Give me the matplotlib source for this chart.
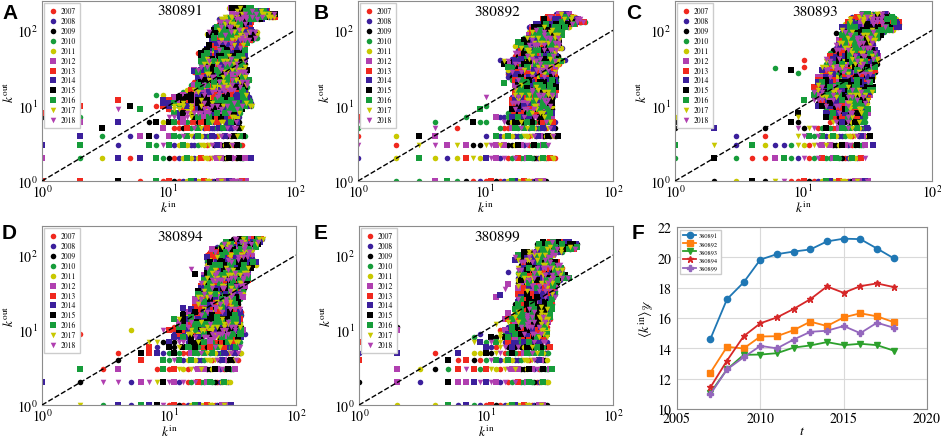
import matplotlib
matplotlib.use('Agg')
import matplotlib.pyplot as plt

plt.rcParams['font.family'] = ['STIXGeneral', 'DejaVu Serif']
plt.rcParams['mathtext.fontset'] = 'stix'

years = [2007, 2008, 2009, 2010, 2011, 2012, 2013, 2014, 2015, 2016, 2017, 2018]
year_colors = ['#f0281e', '#3b1f9c', '#000000', '#169c3a', '#c8c800', '#b03fb0',
               '#f0281e', '#3b1f9c', '#000000', '#169c3a', '#c8c800', '#b03fb0']
year_markers = ['o', 'o', 'o', 'o', 'o', 's', 's', 's', 's', 's', 'v', 'v']

# rows: (k_out, k_in from, k_in to), every integer k_in in between is a node
rows_380891 = [(1, 9, 41), (2, 8, 40), (3, 7, 38), (4, 10, 40), (5, 11, 38), (6, 10, 36),
               (7, 10, 36), (8, 11, 37), (9, 10, 38),
               (10, 9, 46), (11, 9, 45), (12, 9, 44), (13, 11, 43), (14, 12, 42), (15, 13, 41),
               (16, 14, 40), (17.5, 15, 42), (19, 15, 42), (20.5, 16, 42), (22, 17, 43),
               (24, 17, 40), (26, 17, 40), (28, 16, 41), (30, 16, 42), (33, 18, 40), (36, 18, 40),
               (39, 18, 40), (42, 18, 40), (46, 18, 40), (50, 18, 40), (54, 19, 40), (58, 20, 40),
               (63, 21, 40), (68, 22, 42), (74, 22, 46), (80, 22, 50), (87, 21, 50), (94, 21, 50),
               (102, 23, 45), (110, 23, 44), (120, 25, 42), (130, 25, 45), (140, 25, 55),
               (152, 28, 70), (165, 32, 70), (180, 35, 60), (195, 30, 45)]
extra_380891 = [(1, 1), (2, 1), (4, 1), (6, 1), (8, 1), (1, 2), (2, 2), (3, 2), (4, 2), (5, 2),
                (6, 2), (45, 2), (1, 3), (2, 3), (4, 3), (2, 4), (3, 4), (5, 4), (6, 4), (7, 4),
                (8, 4), (3, 5), (9, 5), (2, 6), (4, 6), (7, 6), (8, 6), (9, 6), (1, 7), (2, 7),
                (1, 8), (4, 9), (6, 9), (10, 9), (2, 10), (5, 10), (8, 10), (4, 12), (9, 12),
                (8, 14), (9, 14), (16, 29), (17, 50), (20, 56), (20, 90), (43, 22)]

rows_380892 = [(1, 10, 30), (2, 10, 35), (3, 10, 31), (4, 12, 37), (5, 13, 35), (6, 14, 35),
               (7, 13, 33), (8, 15, 33), (9, 16, 33),
               (10, 16, 33), (11, 16, 33), (12, 16, 33), (13, 16, 34), (14, 17, 35), (15, 17, 35),
               (16, 17, 36), (17.5, 17, 36), (19, 17, 36), (20.5, 17, 36), (22, 16, 36),
               (24, 15, 36), (26, 15, 35), (28, 15, 35), (30, 15, 35), (33, 15, 36), (36, 14, 38),
               (39, 14, 40), (42, 16, 38), (46, 17, 37), (50, 17, 35), (54, 18, 36), (58, 19, 40),
               (63, 19, 38), (68, 19, 38), (74, 20, 38), (80, 20, 38), (87, 22, 40), (94, 22, 40),
               (102, 23, 40), (110, 23, 45), (120, 25, 50), (130, 28, 60), (140, 28, 55),
               (152, 30, 50), (165, 36, 45)]
extra_380892 = [(1, 2), (1, 3), (1, 4), (1, 5), (1, 6), (1, 7), (2, 1), (3, 1), (4, 1), (5, 1),
                (6, 1), (7, 1), (8, 1), (9, 1), (2, 2), (3, 2), (4, 2), (5, 2), (6, 2), (7, 2),
                (8, 2), (9, 2), (2, 3), (3, 3), (4, 3), (5, 3), (6, 3), (7, 3), (8, 3), (9, 3),
                (2, 4), (3, 4), (4, 4), (10, 4), (4, 5), (6, 5), (4, 6), (8, 6), (9, 6), (10, 6),
                (7, 7), (12, 7), (9, 9), (10, 10), (10, 13), (14, 20), (13, 40), (17, 62),
                (18, 70), (23, 95), (22, 110), (42, 40)]

rows_380893 = [(1, 9, 32), (2, 9, 28), (3, 9, 30), (4, 11, 33), (5, 10, 32), (6, 16, 30),
               (7, 15, 30), (8, 15, 32), (9, 15, 32),
               (10, 13, 30), (11, 13, 31), (12, 12, 32), (13, 12, 32), (14, 12, 33), (15, 12, 34),
               (16, 12, 35), (17.5, 12, 35), (19, 13, 33), (20.5, 13, 33), (22, 13, 34),
               (24, 13, 35), (26, 14, 35), (28, 14, 36), (30, 14, 36), (33, 14, 36), (36, 15, 37),
               (39, 15, 38), (42, 15, 38), (46, 16, 38), (50, 16, 37), (54, 17, 36), (58, 18, 35),
               (63, 18, 35), (68, 19, 35), (74, 19, 36), (80, 20, 38), (87, 20, 40), (94, 20, 42),
               (102, 20, 50), (110, 20, 55), (120, 21, 55), (130, 22, 55), (140, 23, 52),
               (152, 24, 50), (165, 28, 45)]
extra_380893 = [(2, 1), (3, 1), (4, 1), (5, 1), (6, 1), (7, 1), (8, 1), (1, 2), (2, 2), (3, 2),
                (4, 2), (5, 2), (6, 2), (7, 2), (8, 2), (30, 2), (1, 3), (2, 3), (3, 3), (4, 3),
                (5, 3), (6, 3), (7, 3), (8, 3), (35, 3), (3, 4), (5, 4), (9, 4), (10, 4),
                (1, 5), (2, 5), (5, 5), (9, 5), (1, 6), (1, 7), (8, 6), (9, 6), (9, 7), (9, 8),
                (10, 12), (6, 32), (8, 30), (9, 27), (10, 40), (10, 33), (18, 93), (24, 140),
                (32, 17)]

rows_380894 = [(1, 10, 31), (2, 10, 30), (3, 11, 33), (4, 9, 35), (5, 10, 37), (6, 10, 36),
               (7, 9, 36), (8, 11, 37), (9, 11, 37),
               (10, 9, 38), (11, 11, 37), (12, 12, 36), (13, 12, 36), (14, 12, 36), (15, 13, 36),
               (16, 13, 37), (17.5, 13, 37), (19, 15, 36), (20.5, 16, 35), (22, 16, 35),
               (24, 16, 35), (26, 16, 36), (28, 17, 38), (30, 17, 38), (33, 17, 38), (36, 18, 39),
               (39, 18, 40), (42, 18, 40), (46, 19, 42), (50, 19, 42), (54, 19, 42), (58, 20, 42),
               (63, 20, 42), (68, 20, 44), (74, 20, 45), (80, 20, 48), (87, 20, 46), (94, 20, 45),
               (102, 20, 45), (110, 21, 45), (120, 22, 45), (130, 24, 48), (140, 26, 50),
               (152, 28, 52), (165, 32, 55)]
extra_380894 = [(2, 1), (3, 1), (4, 1), (5, 1), (6, 1), (7, 1), (8, 1), (9, 1), (1, 2), (2, 2),
                (3, 2), (4, 2), (5, 2), (6, 2), (7, 2), (8, 2), (9, 2), (2, 3), (3, 3), (4, 3),
                (8, 3), (9, 3), (10, 3), (4, 4), (6, 4), (4, 5), (6, 5), (7, 5), (8, 5), (9, 5),
                (7, 6), (8, 6), (7, 7), (8, 7), (2, 9), (5, 10), (40, 9), (11, 14), (13, 20),
                (16, 56), (15, 65), (48, 73)]

rows_380899 = [(1, 10, 30), (2, 10, 31), (3, 10, 33), (4, 10, 30), (5, 10, 31), (6, 10, 32),
               (7, 10, 30), (8, 11, 30), (9, 13, 30),
               (10, 13, 30), (11, 15, 30), (12, 17, 30), (13, 15, 31), (14, 15, 32), (15, 16, 32),
               (16, 17, 32), (17.5, 17, 32), (19, 17, 33), (20.5, 17, 33), (22, 17, 33),
               (24, 18, 33), (26, 18, 33), (28, 18, 35), (30, 18, 35), (33, 18, 35), (36, 18, 35),
               (39, 18, 35), (42, 18, 36), (46, 18, 38), (50, 18, 45), (54, 18, 42), (58, 18, 40),
               (63, 18, 40), (68, 18, 40), (74, 19, 38), (80, 19, 36), (87, 17, 30), (94, 17, 32),
               (102, 18, 35), (110, 20, 40), (120, 25, 50), (130, 25, 52), (140, 25, 52),
               (152, 28, 45)]
extra_380899 = [(2, 1), (4, 1), (5, 1), (6, 1), (7, 1), (8, 1), (9, 1), (1, 2), (2, 2), (3, 2),
                (5, 2), (6, 2), (7, 2), (8, 2), (9, 2), (2, 3), (3, 3), (4, 3), (5, 3), (6, 3),
                (7, 3), (8, 3), (9, 3), (1, 4), (5, 4), (6, 4), (7, 4), (8, 4), (9, 4), (1, 5),
                (2, 5), (4, 5), (6, 5), (8, 5), (9, 5), (1, 7), (8, 7), (9, 7), (8, 8), (9, 9),
                (2, 11), (2, 10), (12, 12), (14, 14), (15, 17), (12, 28), (13, 29), (14, 35),
                (15, 41), (15, 60), (40, 50)]

panels = [('A', '380891', rows_380891, extra_380891),
          ('B', '380892', rows_380892, extra_380892),
          ('C', '380893', rows_380893, extra_380893),
          ('D', '380894', rows_380894, extra_380894),
          ('E', '380899', rows_380899, extra_380899)]

# panel F: mean in-degree per year
t = [2007, 2008, 2009, 2010, 2011, 2012, 2013, 2014, 2015, 2016, 2017, 2018]
mean_380891 = [14.61, 17.24, 18.35, 19.85, 20.21, 20.38, 20.52, 21.05, 21.23, 21.20, 20.58, 19.94]
mean_380892 = [12.39, 14.10, 13.99, 14.78, 14.80, 15.20, 15.76, 15.47, 16.04, 16.31, 16.11, 15.73]
mean_380893 = [11.06, 12.61, 13.57, 13.59, 13.68, 14.05, 14.19, 14.41, 14.21, 14.30, 14.21, 13.85]
mean_380894 = [11.42, 13.19, 14.80, 15.65, 16.04, 16.60, 17.24, 18.08, 17.66, 18.10, 18.28, 18.04]
mean_380899 = [10.97, 12.61, 13.41, 14.16, 14.00, 14.58, 15.09, 15.16, 15.47, 15.00, 15.69, 15.36]
f_series = [('380891', mean_380891, '#1f77b4', 'o', 4.5),
            ('380892', mean_380892, '#ff7f0e', 's', 4.5),
            ('380893', mean_380893, '#2ca02c', 'v', 4.5),
            ('380894', mean_380894, '#d62728', '*', 4.5),
            ('380899', mean_380899, '#9467bd', 'P', 4.5)]

W, H = 941, 439
fig = plt.figure(figsize=(W / 100, H / 100), dpi=100)


def px_axes(x0, y0, x1, y1):
    return fig.add_axes([x0 / W, 1 - y1 / H, (x1 - x0) / W, (y1 - y0) / H])


boxes = [(42, 2, 295, 182), (358, 2, 613, 182), (675, 2, 932, 182),
         (42, 227, 296, 406), (359, 227, 613, 406)]
letter_pos = [(2, 4), (314, 4), (626, 4), (2, 224), (314, 224)]

for (letter, name, rows, extra), box, lp in zip(panels, boxes, letter_pos):
    ax = px_axes(*box)
    pts = []
    for kout, lo, hi in rows:
        for kin in range(lo, hi + 1):
            pts.append((kin, kout))
    pts += extra
    # spread the years over the nodes so neighbours get different years
    yr = [(i * 5 + (i // 7) * 3 + (i * i) % 11) % 12 for i in range(len(pts))]
    for j, y in enumerate(years):
        xs = [p[0] for p, k in zip(pts, yr) if k == j]
        ys = [p[1] for p, k in zip(pts, yr) if k == j]
        ax.scatter(xs, ys, s=16, c=year_colors[j], marker=year_markers[j],
                   linewidths=0, label=str(y), zorder=2 + j * 0.01)
    ax.plot([1, 100], [1, 100], '--', color='black', lw=1, zorder=5)
    ax.set_xscale('log')
    ax.set_yscale('log')
    ax.set_xlim(1, 100)
    ax.set_ylim(1, 245)
    ax.set_xlabel(r'$k^{\rm in}$', fontsize=9.5, labelpad=-0.5)
    ax.set_ylabel(r'$k^{\rm out}$', fontsize=9.5, labelpad=0)
    ax.tick_params(which='both', length=0, labelsize=10)
    ax.tick_params(axis='x', pad=1.5)
    ax.tick_params(axis='y', pad=3)
    for sp in ax.spines.values():
        sp.set_color('0.55')
    ax.text(0.545, 0.985, name, transform=ax.transAxes, ha='center', va='top', fontsize=11)
    ax.legend(loc='upper left', fontsize=5.5, markerscale=1.0, handletextpad=0.3,
              labelspacing=0.25, borderpad=0.5, borderaxespad=0.3, framealpha=1,
              edgecolor='0.8', fancybox=False, handlelength=1.4)
    fig.text(lp[0] / W, 1 - lp[1] / H, letter, fontsize=15, fontweight='bold',
             family='Liberation Sans', ha='left', va='top')

axf = px_axes(677, 228, 927, 410)
for name, vals, col, mk, ms in f_series:
    axf.plot(t, vals, color=col, marker=mk, ms=ms, lw=1.3, label=name)
axf.set_xlim(2005, 2020)
axf.set_ylim(10, 22)
axf.set_yticks([10, 12, 14, 16, 18, 20, 22])
axf.set_xticks([2005, 2010, 2015, 2020])
axf.grid(True, color='0.85', lw=0.8)
axf.set_axisbelow(True)
axf.tick_params(length=0, labelsize=10)
axf.tick_params(axis='x', pad=2)
axf.tick_params(axis='y', pad=4)
axf.set_xlabel(r'$t$', fontsize=10, labelpad=-1)
axf.set_ylabel(r'$\langle k^{\rm in}\rangle_{\mathscr{Y}}$', fontsize=10, labelpad=1)
for sp in axf.spines.values():
    sp.set_color('0.55')
axf.legend(loc='upper left', fontsize=4.5, handlelength=2.2, handletextpad=0.4,
           labelspacing=0.45, borderpad=0.5, borderaxespad=0.4, framealpha=1,
           edgecolor='0.8', fancybox=False)
fig.text(632 / W, 1 - 224 / H, 'F', fontsize=15, fontweight='bold',
         family='Liberation Sans', ha='left', va='top')

fig.savefig('out.png', dpi=100)
